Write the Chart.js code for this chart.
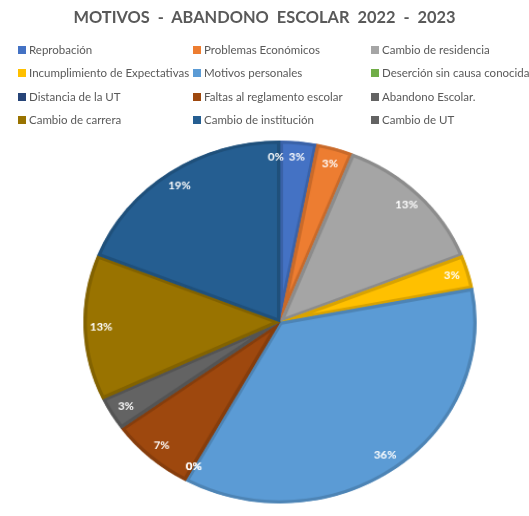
<!DOCTYPE html>
<html>
<head>
<meta charset="utf-8">
<script src="https://cdn.jsdelivr.net/npm/chart.js@4"></script>
<style>
  body { margin: 0; background: #fff; }
  #wrap { position: relative; width: 529px; height: 516px; overflow: hidden; }
  #pieChart { transform-origin: 280px 322px; transform: scale(1.035, 0.955); }
  #title {
    position: absolute; left: 0; top: 7px; width: 529px; text-align: center;
    font: bold 16.4px Lato, "Open Sans", sans-serif; color: #595959; white-space: pre;
  }
  .item {
    position: absolute; font: 11.5px Lato, sans-serif; color: #595959; white-space: nowrap;
  }
  .item span {
    display: inline-block; width: 8px; height: 8px; margin-right: 3px; vertical-align: 0px;
  }
</style>
</head>
<body>
<div id="wrap">
  <canvas id="pieChart" width="529" height="516"></canvas>
  <div id="title">MOTIVOS  -  ABANDONO  ESCOLAR  2022  -  2023</div>
  <div id="legend"></div>
</div>
<script>
const motivos = [
    'Reprobación', 'Problemas Económicos', 'Cambio de residencia',
    'Incumplimiento de Expectativas', 'Motivos personales', 'Deserción sin causa conocida',
    'Distancia de la UT', 'Faltas al reglamento escolar', 'Abandono Escolar.',
    'Cambio de carrera', 'Cambio de institución', 'Cambio de UT'
];
const porcentajes = [3, 3, 13, 3, 36, 0, 0, 7, 3, 13, 19, 0];
const colores = [
    '#4472C4', '#ED7D31', '#A5A5A5', '#FFC000', '#5B9BD5', '#70AD47',
    '#264478', '#9E480E', '#636363', '#997300', '#255E91', '#636363'
];
const bordes = [
    '#3a62a8', '#c96a2a', '#8c8c8c', '#d9a300', '#4d84b5', '#5f933c',
    '#203a66', '#863d0c', '#545454', '#826200', '#1f507b', '#545454'
];

// legend laid out like the original: 3 columns, 4 rows
const colX = [18, 193, 371];
const rowY = [43, 66, 90, 113];
const legend = document.getElementById('legend');
motivos.forEach(function (m, i) {
    const d = document.createElement('div');
    d.className = 'item';
    d.style.left = colX[i % 3] + 'px';
    d.style.top = rowY[Math.floor(i / 3)] + 'px';
    d.innerHTML = '<span style="background:' + colores[i] + '"></span>' + m;
    legend.appendChild(d);
});

const pieLabels = {
    id: 'pieLabels',
    afterDatasetsDraw(chart) {
        const ctx = chart.ctx;
        const meta = chart.getDatasetMeta(0);
        ctx.save();
        ctx.font = 'bold 11px Lato, sans-serif';
        ctx.fillStyle = '#ffffff';
        ctx.textAlign = 'center';
        ctx.textBaseline = 'middle';
        meta.data.forEach(function (arc, i) {
            const p = arc.getProps(['x', 'y', 'startAngle', 'endAngle', 'outerRadius'], true);
            const mid = (p.startAngle + p.endAngle) / 2;
            const r = p.outerRadius * 0.91;
            let x = p.x + Math.cos(mid) * r;
            const y = p.y + Math.sin(mid) * r;
            if (porcentajes[i] === 0 && i === motivos.length - 1) x -= 4;
            ctx.fillText(porcentajes[i] + '%', x, y);
        });
        ctx.restore();
    }
};

const ctx = document.getElementById('pieChart').getContext('2d');
new Chart(ctx, {
    type: 'pie',
    data: {
        labels: motivos,
        datasets: [{
            data: porcentajes,
            backgroundColor: colores,
            borderColor: bordes,
            borderWidth: 3,
            borderAlign: 'inner'
        }]
    },
    options: {
        responsive: false,
        animation: false,
        layout: { padding: { left: 90, right: 59, top: 132, bottom: 4 } },
        plugins: {
            legend: { display: false },
            title: { display: false },
            tooltip: { enabled: false }
        }
    },
    plugins: [pieLabels]
});
</script>
</body>
</html>
